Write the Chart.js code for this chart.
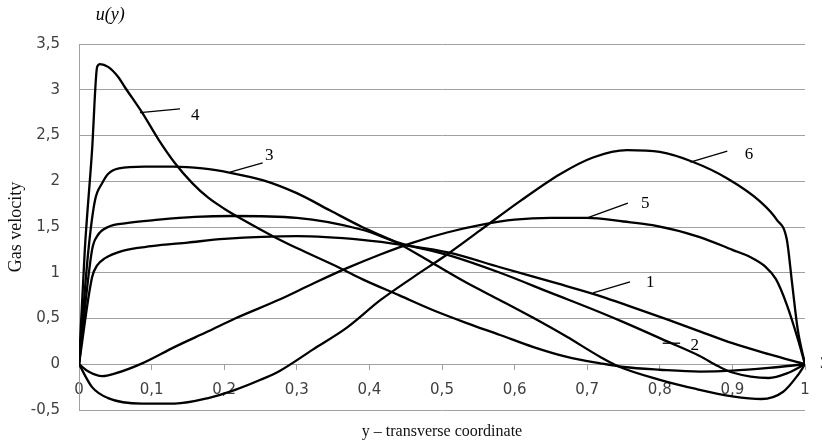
<!DOCTYPE html>
<html>
<head>
<meta charset="utf-8">
<script src="https://cdn.jsdelivr.net/npm/chart.js@4.4.1/dist/chart.umd.min.js"></script>
<style>
  html, body { margin: 0; padding: 0; background: #fff; }
  #wrap { width: 822px; height: 443px; }
</style>
</head>
<body>
<div id="wrap"><canvas id="velocityChart" width="822" height="443"></canvas></div>
<script>
// profiles u(y), curves 1..6
const y1 = [0, 0.018, 0.025, 0.036, 0.06, 0.1, 0.15, 0.2, 0.3, 0.39, 0.45, 0.51, 0.58, 0.66, 0.72, 0.76, 0.81, 0.855, 0.9, 0.95, 1];
const u1 = [0, 0.95, 1.08, 1.16, 1.24, 1.29, 1.33, 1.37, 1.40, 1.36, 1.30, 1.22, 1.06, 0.88, 0.74, 0.63, 0.49, 0.36, 0.23, 0.11, 0];

const y2 = [0, 0.018, 0.025, 0.04, 0.063, 0.11, 0.16, 0.21, 0.3, 0.39, 0.44, 0.51, 0.58, 0.65, 0.72, 0.75, 0.81, 0.855, 0.88, 0.9, 0.95, 0.975, 1];
const u2 = [0, 1.25, 1.40, 1.50, 1.54, 1.58, 1.61, 1.62, 1.60, 1.47, 1.33, 1.19, 1.0, 0.78, 0.56, 0.46, 0.25, 0.09, -0.02, -0.09, -0.15, -0.10, 0];

const y3 = [0, 0.013, 0.022, 0.032, 0.04, 0.055, 0.09, 0.13, 0.17, 0.21, 0.254, 0.3, 0.346, 0.39, 0.44, 0.488, 0.534, 0.58, 0.625, 0.672, 0.718, 0.745, 0.8, 0.85, 0.9, 0.94, 0.97, 0.99, 1];
const u3 = [0, 1.25, 1.79, 1.98, 2.08, 2.14, 2.16, 2.16, 2.14, 2.09, 2.01, 1.87, 1.68, 1.50, 1.32, 1.10, 0.89, 0.70, 0.51, 0.30, 0.08, -0.03, -0.17, -0.27, -0.35, -0.38, -0.30, -0.12, 0];

const y4 = [0, 0.008, 0.018, 0.025, 0.029, 0.04, 0.054, 0.063, 0.087, 0.11, 0.132, 0.156, 0.178, 0.2, 0.23, 0.267, 0.3, 0.36, 0.39, 0.442, 0.488, 0.534, 0.58, 0.625, 0.672, 0.718, 0.75, 0.8, 0.855, 0.9, 0.95, 1];
const u4 = [0, 1.25, 2.34, 3.25, 3.28, 3.25, 3.14, 3.03, 2.75, 2.45, 2.20, 1.98, 1.82, 1.70, 1.56, 1.40, 1.27, 1.05, 0.93, 0.75, 0.59, 0.45, 0.32, 0.19, 0.08, 0.01, -0.03, -0.06, -0.08, -0.07, -0.04, 0];

const y5 = [0, 0.013, 0.032, 0.05, 0.087, 0.132, 0.178, 0.215, 0.277, 0.322, 0.369, 0.415, 0.46, 0.507, 0.552, 0.6, 0.65, 0.7, 0.75, 0.79, 0.855, 0.9, 0.925, 0.945, 0.96, 0.975, 0.99, 1];
const u5 = [0, -0.08, -0.13, -0.10, 0.01, 0.19, 0.36, 0.50, 0.71, 0.88, 1.05, 1.20, 1.33, 1.44, 1.52, 1.58, 1.60, 1.60, 1.56, 1.52, 1.39, 1.25, 1.17, 1.07, 0.93, 0.65, 0.28, 0];

const y6 = [0, 0.018, 0.04, 0.087, 0.132, 0.178, 0.215, 0.25, 0.277, 0.322, 0.369, 0.415, 0.46, 0.507, 0.552, 0.607, 0.663, 0.708, 0.755, 0.8, 0.846, 0.893, 0.938, 0.961, 0.975, 0.982, 0.99, 1];
const u6 = [0, -0.25, -0.37, -0.43, -0.43, -0.37, -0.28, -0.17, -0.07, 0.16, 0.40, 0.70, 0.95, 1.20, 1.46, 1.78, 2.08, 2.26, 2.34, 2.32, 2.21, 2.03, 1.78, 1.58, 1.36, 0.90, 0.38, 0];

const xTickLabels = ['0', '0,1', '0,2', '0,3', '0,4', '0,5', '0,6', '0,7', '0,8', '0,9', '1'];
const yTickLabels = ['-0,5', '0', '0,5', '1', '1,5', '2', '2,5', '3', '3,5'];

// curve numbers with their leader lines, in data units (y, u)
const curveLabels = [
  { text: '4', from: [0.084, 2.75], to: [0.139, 2.79], at: [0.160, 2.72] },
  { text: '3', from: [0.208, 2.10], to: [0.253, 2.20], at: [0.262, 2.28] },
  { text: '6', from: [0.842, 2.21], to: [0.893, 2.33], at: [0.923, 2.29] },
  { text: '5', from: [0.700, 1.60], to: [0.756, 1.76], at: [0.780, 1.76] },
  { text: '1', from: [0.708, 0.78], to: [0.759, 0.90], at: [0.787, 0.89] },
  { text: '2', from: [0.804, 0.23], to: [0.828, 0.23], at: [0.848, 0.20] }
];

function pts(xs, us) {
  return xs.map((v, i) => ({ x: v, y: us[i] }));
}

function line(xs, us) {
  return {
    data: pts(xs, us),
    borderColor: '#000',
    borderWidth: 2.3,
    pointRadius: 0,
    fill: false,
    cubicInterpolationMode: 'monotone'
  };
}

const labelPlugin = {
  id: 'curveLabels',
  afterDatasetsDraw(chart) {
    const { ctx } = chart;
    const sx = chart.scales.x, sy = chart.scales.y;
    ctx.save();
    ctx.strokeStyle = '#000';
    ctx.lineWidth = 1.3;
    ctx.fillStyle = '#000';
    ctx.font = '17px "Liberation Serif"';
    ctx.textAlign = 'center';
    ctx.textBaseline = 'middle';
    curveLabels.forEach(l => {
      ctx.beginPath();
      ctx.moveTo(sx.getPixelForValue(l.from[0]), sy.getPixelForValue(l.from[1]));
      ctx.lineTo(sx.getPixelForValue(l.to[0]), sy.getPixelForValue(l.to[1]));
      ctx.stroke();
      ctx.fillText(l.text, sx.getPixelForValue(l.at[0]), sy.getPixelForValue(l.at[1]));
    });
    // stray label cut by the right edge
    ctx.textAlign = 'left';
    ctx.fillText('3', sx.getPixelForValue(1.0205), sy.getPixelForValue(0.01));
    // axis name above the plot
    ctx.textAlign = 'center';
    ctx.font = 'italic 18px "Liberation Serif"';
    ctx.fillText('u(y)', sx.getPixelForValue(0.043), sy.getPixelForValue(3.81));
    ctx.restore();
  }
};

new Chart(document.getElementById('velocityChart'), {
  type: 'line',
  data: {
    datasets: [
      line(y1, u1),
      line(y2, u2),
      line(y3, u3),
      line(y4, u4),
      line(y5, u5),
      line(y6, u6)
    ]
  },
  options: {
    responsive: false,
    animation: false,
    layout: { padding: { top: 44, right: 17, left: 0, bottom: 0 } },
    plugins: {
      legend: { display: false },
      tooltip: { enabled: false }
    },
    scales: {
      x: {
        type: 'linear',
        min: 0,
        max: 1,
        position: { y: 0 },
        grid: { drawOnChartArea: false, drawTicks: true, tickLength: 5, color: '#a0a0a0' },
        border: { color: '#a0a0a0' },
        ticks: {
          stepSize: 0.1,
          padding: 12,
          maxRotation: 0,
          autoSkip: false,
          color: '#404040',
          font: { family: 'DejaVu Sans', size: 15 },
          callback: (v, i) => xTickLabels[i]
        }
      },
      x2: {
        type: 'linear',
        position: 'bottom',
        ticks: { display: false },
        grid: { display: false },
        border: { display: false },
        title: {
          display: true,
          text: 'y – transverse coordinate',
          color: '#111',
          font: { family: 'Liberation Serif', size: 16 },
          padding: { top: 0, bottom: 2 }
        },
        afterFit(scale) { scale.height = 33; }
      },
      y: {
        min: -0.5,
        max: 3.5,
        grid: { color: '#a0a0a0', drawTicks: false },
        border: { color: '#a0a0a0' },
        ticks: {
          stepSize: 0.5,
          padding: 19,
          color: '#404040',
          font: { family: 'DejaVu Sans', size: 15 },
          callback: (v, i) => yTickLabels[i]
        },
        title: {
          display: true,
          text: 'Gas velocity',
          color: '#111',
          font: { family: 'Liberation Serif', size: 18 },
          padding: { top: 5, bottom: 0 }
        },
        afterFit(scale) { scale.width = 79; }
      }
    }
  },
  plugins: [labelPlugin]
});
</script>
</body>
</html>
